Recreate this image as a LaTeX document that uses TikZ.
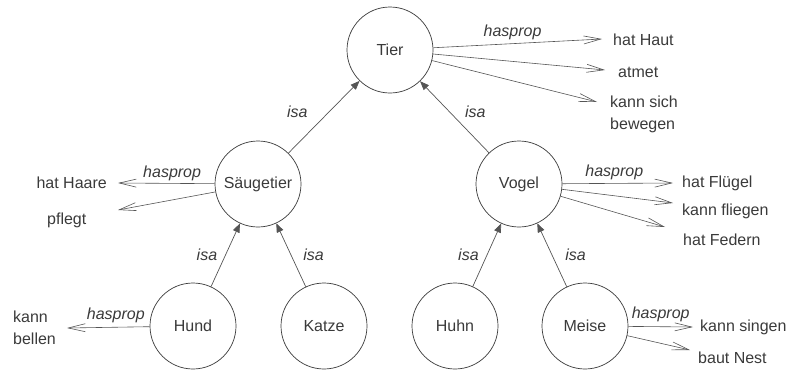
\documentclass[tikz,border=0pt]{standalone}
\usepackage{fontspec}
\setmainfont{Liberation Sans}
\usetikzlibrary{arrows.meta}

\definecolor{ink}{HTML}{3A3A3A}
\definecolor{wire}{HTML}{555555}

\tikzset{
  concept/.style={circle, draw=ink, line width=0.7pt, minimum size=86pt, inner sep=0pt,
                  text=ink, font=\fontsize{16}{20}\selectfont},
  prop/.style={anchor=west, inner sep=0pt, text=ink, align=left,
               font=\fontsize{16}{22}\selectfont},
  isaarrow/.style={draw=wire, line width=0.7pt,
                   -{Triangle[length=9pt,width=7pt]}, fill=none},
  haspropline/.style={draw=wire, line width=0.6pt,
                      -{Straight Barb[length=17pt,width=8pt,line width=0.6pt]}},
  rel/.style={inner sep=0pt, text=ink, font=\fontsize{16}{20}\selectfont\itshape},
}

\begin{document}
\begin{tikzpicture}[x=1pt, y=-1pt]
  \useasboundingbox (0,0) rectangle (792,370);

  % concept nodes
  \node[concept] (tier)  at (390,50)  {Tier};
  \node[concept] (saeug) at (258,184) {Säugetier};
  \node[concept] (vogel) at (519,184) {Vogel};
  \node[concept] (hund)  at (193,326) {Hund};
  \node[concept] (katze) at (324,326) {Katze};
  \node[concept] (huhn)  at (455,326) {Huhn};
  \node[concept] (meise) at (585,326) {Meise};

  % property texts
  \node[prop] (haut)    at (613,40)  {hat Haut};
  \node[prop] (atmet)   at (618,72)  {atmet};
  \node[prop] (beweg)   at (610,114) {kann sich\\bewegen};
  \node[prop, anchor=east] (haare) at (107,183) {hat Haare};
  \node[prop] (pflegt)  at (47,220)  {pflegt};
  \node[prop] (fluegel) at (682,183) {hat Flügel};
  \node[prop] (fliegen) at (682,211) {kann fliegen};
  \node[prop] (federn)  at (683,240) {hat Federn};
  \node[prop] (bellen)  at (13,328)  {kann\\bellen};
  \node[prop] (singen)  at (700,327) {kann singen};
  \node[prop] (nest)    at (698,358) {baut Nest};

  % arrow tips of the hasprop links
  \coordinate (tHaut)    at (602,39);
  \coordinate (tAtmet)   at (605,70);
  \coordinate (tBeweg)   at (597,102);
  \coordinate (tHaare)   at (118,183);
  \coordinate (tPflegt)  at (118,210);
  \coordinate (tFluegel) at (673,183);
  \coordinate (tFliegen) at (673,203);
  \coordinate (tFedern)  at (665,227);
  \coordinate (tBellen)  at (67,328);
  \coordinate (tSingen)  at (693,327);
  \coordinate (tNest)    at (690,350);

  % isa links
  \draw[isaarrow] (saeug) -- node[rel, pos=0.57, left=21pt] {isa} (tier);
  \draw[isaarrow] (vogel) -- node[rel, pos=0.57, right=15pt] {isa} (tier);
  \draw[isaarrow] (hund)  -- node[rel, pos=0.5, left=8pt] {isa} (saeug);
  \draw[isaarrow] (katze) -- node[rel, pos=0.5, right=12pt] {isa} (saeug);
  \draw[isaarrow] (huhn)  -- node[rel, pos=0.5, left=8pt] {isa} (vogel);
  \draw[isaarrow] (meise) -- node[rel, pos=0.5, right=13pt] {isa} (vogel);

  % hasprop links
  \draw[haspropline] (tier) -- node[rel, pos=0.47, yshift=11pt] {hasprop} (tHaut);
  \draw[haspropline] (tier) -- (tAtmet);
  \draw[haspropline] (tier) -- (tBeweg);
  \draw[haspropline] (saeug) -- node[rel, pos=0.44, yshift=10pt] {hasprop} (tHaare);
  \draw[haspropline] (saeug) -- (tPflegt);
  \draw[haspropline] (vogel) -- node[rel, pos=0.47, yshift=11pt] {hasprop} (tFluegel);
  \draw[haspropline] (vogel) -- (tFliegen);
  \draw[haspropline] (vogel) -- (tFedern);
  \draw[haspropline] (hund) -- node[rel, pos=0.41, yshift=12pt] {hasprop} (tBellen);
  \draw[haspropline] (meise) -- node[rel, pos=0.5, yshift=12pt] {hasprop} (tSingen);
  \draw[haspropline] (meise) -- (tNest);
\end{tikzpicture}
\end{document}
